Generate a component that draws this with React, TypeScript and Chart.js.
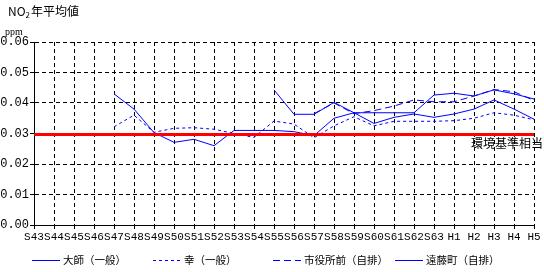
import React, { useEffect, useRef } from "react";
import { Chart, registerables } from "chart.js";

Chart.register(...registerables);

const categories = [
  "S43", "S44", "S45", "S46", "S47", "S48", "S49", "S50", "S51", "S52", "S53", "S54", "S55",
  "S56", "S57", "S58", "S59", "S60", "S61", "S62", "S63", "H1", "H2", "H3", "H4", "H5",
];

const daishi = [
  null, null, null, null, 0.043, 0.038, 0.0303, 0.0271, 0.0281, 0.026, 0.031, 0.031, 0.031,
  0.0306, 0.0293, 0.035, 0.0368, 0.0368, 0.0368, 0.0368, 0.0426, 0.0432, 0.0423, 0.0443, 0.043, 0.0413,
];

const saiwai = [
  null, null, null, null, 0.0322, 0.036, 0.0304, 0.0317, 0.0319, 0.0314, 0.030, 0.0287, 0.0341,
  0.0331, 0.0286, 0.0325, 0.0355, 0.0325, 0.034, 0.034, 0.034, 0.0342, 0.035, 0.0368, 0.036, 0.0345,
];

const shiyakusho = [
  null, null, null, null, null, null, null, null, null, null, null, null, null,
  null, 0.0365, 0.040, 0.0365, 0.0375, 0.039, 0.041, 0.0404, 0.0404, 0.0423, 0.0444, 0.0437, 0.0408,
];

const endocho = [
  null, null, null, null, null, null, null, null, null, null, null, null, 0.0443,
  0.0363, 0.0363, 0.0402, 0.0368, 0.0333, 0.0353, 0.0364, 0.0353, 0.0364, 0.038, 0.041, 0.038, 0.0347,
];

const seriesNames = ["大師（一般）", "幸（一般）", "市役所前（自排）", "遠藤町（自排）"];
const yMin = 0;
const yMax = 0.06;
const yStep = 0.01;
const envStandard = 0.03;
const envLabel = "環境基準相当";
const titleMain = "NO";
const titleSub = "2";
const titleRest = "年平均値";
const unitLabel = "ppm";

const LINE_BLUE = "#0000ff";
const dashes: number[][] = [[], [3, 3], [7, 4], []];
const legendX = [32, 153, 273, 395];

const overlay = {
  id: "overlay",
  afterDatasetsDraw(chart: any) {
    const { ctx, chartArea, scales } = chart;
    const y = scales.y.getPixelForValue(envStandard);
    ctx.save();
    ctx.strokeStyle = "#ff0000";
    ctx.lineWidth = 3;
    ctx.setLineDash([]);
    ctx.beginPath();
    ctx.moveTo(chartArea.left, y + 1);
    ctx.lineTo(chartArea.right, y + 1);
    ctx.stroke();
    ctx.fillStyle = "#000";
    ctx.font = "12px 'Noto Sans CJK JP'";
    ctx.textAlign = "right";
    ctx.textBaseline = "middle";
    ctx.fillText(envLabel, 543, y + 10);
    ctx.restore();
  },
  afterDraw(chart: any) {
    const { ctx } = chart;
    ctx.save();
    ctx.fillStyle = "#000";
    ctx.textBaseline = "alphabetic";
    ctx.textAlign = "left";
    // title
    ctx.font = "12px 'Noto Sans CJK JP'";
    let x = 8;
    ctx.fillText(titleMain, x, 16);
    x += ctx.measureText(titleMain).width;
    ctx.font = "8px 'Noto Sans CJK JP'";
    ctx.fillText(titleSub, x, 18);
    x += ctx.measureText(titleSub).width + 1;
    ctx.font = "12px 'Noto Sans CJK JP'";
    ctx.fillText(titleRest, x, 16);
    // unit
    ctx.font = "10px 'Liberation Serif'";
    ctx.fillText(unitLabel, 5, 35);
    // legend
    ctx.font = "10.5px 'Noto Sans CJK JP'";
    ctx.textBaseline = "middle";
    const ly = 260;
    seriesNames.forEach((name, i) => {
      const lx = legendX[i];
      ctx.strokeStyle = LINE_BLUE;
      ctx.lineWidth = 1;
      ctx.setLineDash(dashes[i]);
      ctx.beginPath();
      ctx.moveTo(lx, ly + 0.5);
      ctx.lineTo(lx + 28, ly + 0.5);
      ctx.stroke();
      ctx.setLineDash([]);
      ctx.fillText(name, lx + 31, ly);
    });
    ctx.restore();
  },
};

export default function App() {
  const canvasRef = useRef<HTMLCanvasElement | null>(null);

  useEffect(() => {
    document.body.style.margin = "0";
    const canvas = canvasRef.current;
    if (!canvas) return;
    const seriesData = [daishi, saiwai, shiyakusho, endocho];
    const chart = new Chart(canvas, {
      type: "line",
      data: {
        labels: categories,
        datasets: seriesData.map((d, i) => ({
          label: seriesNames[i],
          data: d,
          borderColor: LINE_BLUE,
          backgroundColor: LINE_BLUE,
          borderWidth: 1,
          borderDash: dashes[i],
          pointRadius: 0,
          tension: 0,
          fill: false,
          spanGaps: false,
        })),
      },
      options: {
        animation: false,
        responsive: false,
        maintainAspectRatio: false,
        layout: { padding: { top: 42, right: 10, bottom: 0, left: 0 } },
        plugins: {
          legend: { display: false },
          tooltip: { enabled: false },
          title: { display: false },
        },
        scales: {
          x: {
            type: "category",
            offset: false,
            afterFit(scale: any) {
              scale.height = 47;
            },
            grid: {
              color: (c: any) => (c.index === 0 ? "rgba(0,0,0,0)" : "#000"),
              lineWidth: 1,
              tickLength: 4,
              tickColor: "#000",
              drawOnChartArea: true,
            },
            border: { display: true, color: "#000", width: 1, dash: [4, 3] },
            ticks: {
              autoSkip: false,
              maxRotation: 0,
              minRotation: 0,
              padding: 1,
              color: "#000",
              font: { family: "'Liberation Mono'", size: 11 },
            },
          },
          y: {
            min: yMin,
            max: yMax,
            afterFit(scale: any) {
              scale.width = 34;
            },
            grid: {
              color: (c: any) => (c.index === 0 ? "rgba(0,0,0,0)" : "#000"),
              lineWidth: 1,
              tickLength: 4,
              tickColor: "#000",
            },
            border: { display: true, color: "#000", width: 1, dash: [4, 3] },
            ticks: {
              stepSize: yStep,
              padding: 1,
              color: "#000",
              font: { family: "'Liberation Mono'", size: 12 },
              callback: (v: any) => Number(v).toFixed(2),
            },
          },
        },
      },
      plugins: [overlay],
    });
    return () => chart.destroy();
  }, []);

  return (
    <div style={{ width: 544, height: 272 }}>
      <canvas ref={canvasRef} width={544} height={272} style={{ display: "block" }} />
    </div>
  );
}
